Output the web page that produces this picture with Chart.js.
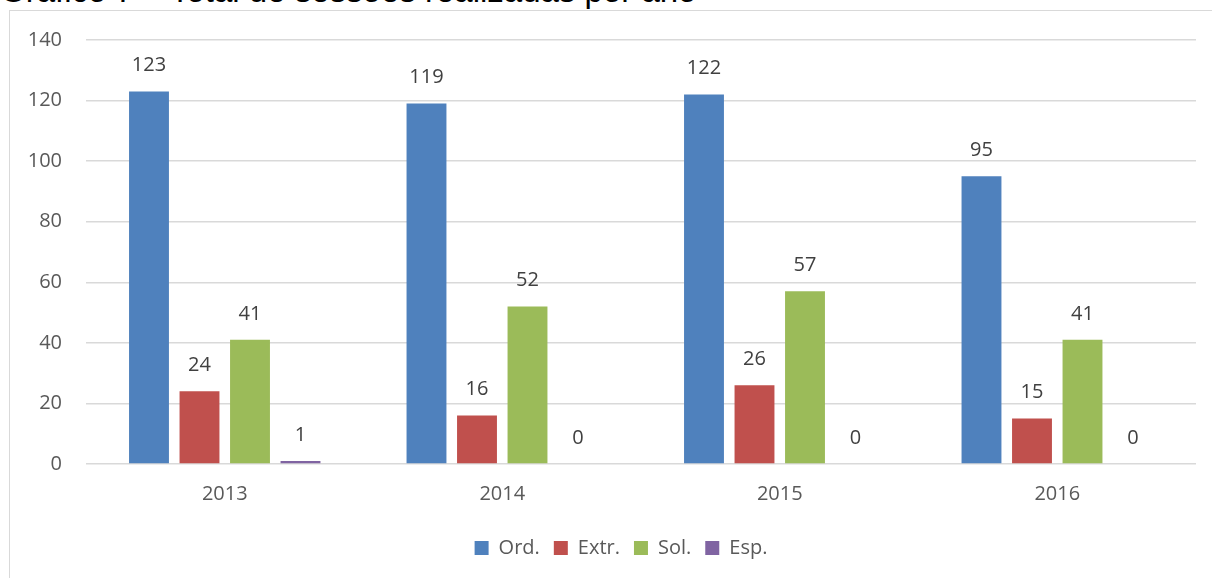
<!DOCTYPE html>
<html>
<head>
<meta charset="utf-8">
<script src="https://cdn.jsdelivr.net/npm/chart.js@4/dist/chart.umd.min.js"></script>
<style>
  html, body { margin: 0; padding: 0; background: #fff; overflow: hidden; }
  #wrap { position: relative; width: 1212px; height: 578px; }
  #frame { position: absolute; left: 9px; top: 10px; width: 1203px; height: 568px;
           border-left: 1px solid #d9d9d9; border-top: 1px solid #d9d9d9; box-sizing: border-box; }
  #title { position: absolute; left: 0; top: -27px; font-family: "Liberation Sans", Arial, sans-serif;
           font-size: 33px; color: #000; white-space: nowrap; line-height: 36px; }
  canvas { position: absolute; left: 0; top: 0; }
</style>
</head>
<body>
<div id="wrap">
  <div id="frame"></div>
  <div id="title">Gráfico 7 – Total de sessões realizadas por ano</div>
  <canvas id="myChart" width="1212" height="578"></canvas>
</div>
<script>
var years = ['2013', '2014', '2015', '2016'];
var ordinarias = [123, 119, 122, 95];
var extraordinarias = [24, 16, 26, 15];
var solenes = [41, 52, 57, 41];
var especiais = [1, 0, 0, 0];

var font = '"Open Sans", "Noto Sans", sans-serif';

// numbers above each bar
var valueLabels = {
    id: 'valueLabels',
    afterDatasetsDraw: function(chart) {
        var ctx = chart.ctx;
        ctx.save();
        ctx.font = '20px ' + font;
        ctx.fillStyle = '#404040';
        ctx.textAlign = 'center';
        ctx.textBaseline = 'middle';
        chart.data.datasets.forEach(function(ds, i) {
            chart.getDatasetMeta(i).data.forEach(function(bar, j) {
                ctx.fillText(ds.data[j], bar.x, bar.y - 26);
            });
        });
        ctx.restore();
    }
};

// the original legend sits a bit right of centre
var legendShift = {
    id: 'legendShift',
    afterLayout: function(chart) {
        chart.legend.left += 23;
        chart.legend.right += 23;
    }
};

new Chart(document.getElementById('myChart').getContext('2d'), {
    type: 'bar',
    plugins: [valueLabels, legendShift],
    data: {
        labels: years,
        datasets: [
            { label: 'Ord.', data: ordinarias, backgroundColor: '#4F81BD' },
            { label: 'Extr.', data: extraordinarias, backgroundColor: '#C0504D' },
            { label: 'Sol.', data: solenes, backgroundColor: '#9BBB59' },
            { label: 'Esp.', data: especiais, backgroundColor: '#8064A2' }
        ]
    },
    options: {
        responsive: false,
        animation: false,
        datasets: {
            bar: { categoryPercentage: 0.728, barPercentage: 0.79 }
        },
        layout: { padding: { top: 40, right: 16, bottom: 10, left: 0 } },
        scales: {
            x: {
                grid: { display: false, drawTicks: false },
                border: { display: false },
                ticks: { color: '#595959', font: { family: font, size: 20 }, padding: 18 },
                afterFit: function(scale) { scale.height = 60; }
            },
            y: {
                min: 0,
                max: 140,
                grid: { color: '#d9d9d9', lineWidth: 1.5, drawTicks: false },
                border: { display: false },
                ticks: { stepSize: 20, color: '#595959', font: { family: font, size: 20 }, padding: 24 },
                afterFit: function(scale) { scale.width = 86; }
            }
        },
        plugins: {
            legend: {
                position: 'bottom',
                labels: {
                    boxWidth: 14,
                    boxHeight: 14,
                    padding: 14,
                    color: '#595959',
                    font: { family: font, size: 20 }
                }
            },
            tooltip: { enabled: false }
        }
    }
});
</script>
</body>
</html>
